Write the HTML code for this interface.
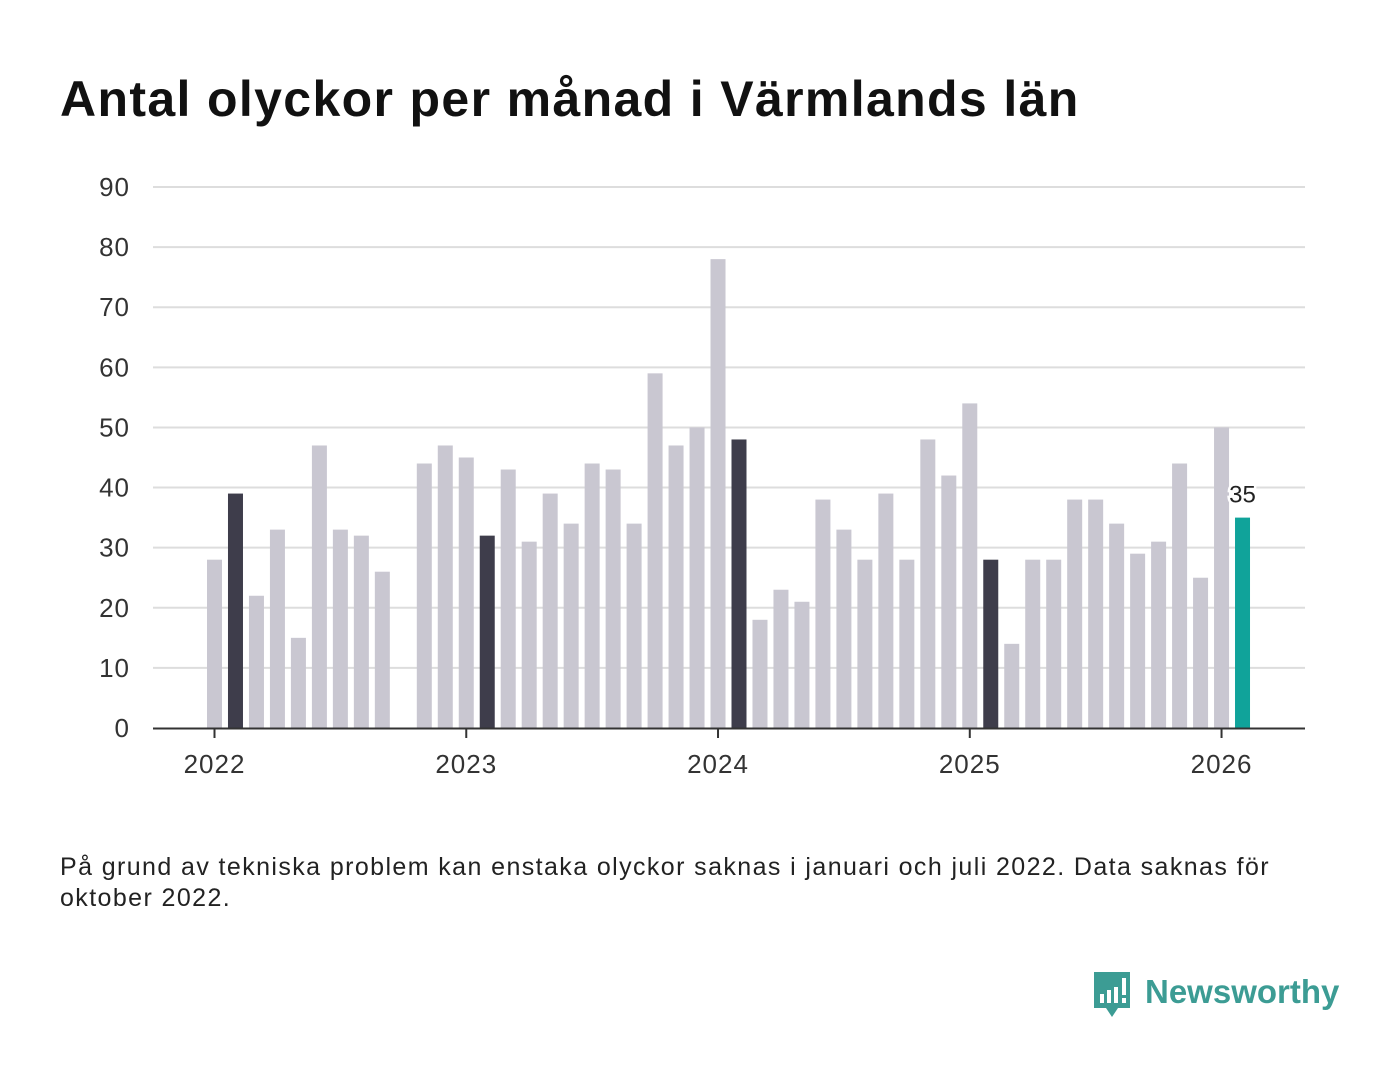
<!DOCTYPE html>
<html><head><meta charset="utf-8"><style>
body{margin:0;background:#fff;width:1400px;height:1080px;overflow:hidden;font-family:"Liberation Sans",sans-serif}
h1{position:absolute;left:60px;top:70px;margin:0;font-size:50px;font-weight:bold;color:#111;letter-spacing:1.35px}
.note{position:absolute;left:60px;top:852px;width:1240px;font-size:25px;line-height:31px;color:#222;letter-spacing:1.4px}
.logo{position:absolute;left:1092px;top:970px}
</style></head><body>
<h1>Antal olyckor per månad i Värmlands län</h1>
<svg id="chart" width="1400" height="820" style="position:absolute;left:0;top:0"></svg>
<div class="note">På grund av tekniska problem kan enstaka olyckor saknas i januari och juli 2022. Data saknas för oktober 2022.</div>
<svg class="logo" width="250" height="52">
<path d="M2 2h36v36H26l-6 9-6-9H2z" fill="#3c9c94"/>
<rect x="8" y="24" width="4" height="9" fill="#fff"/><rect x="15" y="20" width="4" height="13" fill="#fff"/><rect x="22" y="17" width="4" height="16" fill="#fff"/><rect x="30" y="8" width="4" height="17" fill="#fff"/><rect x="30" y="28" width="4" height="5" fill="#fff"/>
<text x="53" y="33" font-size="33" font-weight="bold" fill="#3c9c94" font-family="Liberation Sans, sans-serif">Newsworthy</text>
</svg>
<script>
const values=[28,39,22,33,15,47,33,32,26,null,44,47,45,32,43,31,39,34,44,43,34,59,47,50,78,48,18,23,21,38,33,28,39,28,48,42,54,28,14,28,28,38,38,34,29,31,44,25,50,35];
const yTicks=[0,10,20,30,40,50,60,70,80,90];
const years=["2022","2023","2024","2025","2026"];
const svg=document.getElementById('chart');const NS='http://www.w3.org/2000/svg';
const y=v=>728-v*(541/90);const x=i=>214.5+i*20.98;
function mk(t,a){const e=document.createElementNS(NS,t);for(const k in a)e.setAttribute(k,a[k]);svg.appendChild(e);return e;}
yTicks.forEach(t=>{
if(t>0){const l=mk('line',{x1:153,x2:1305,y1:y(t),y2:y(t),stroke:'#ddd','stroke-width':2});

}
const tx=mk('text',{x:130,y:y(t)+9,'text-anchor':'end','font-size':26,fill:'#333','letter-spacing':1});tx.textContent=t;


});
values.forEach((v,i)=>{if(v==null)return;
const last=i===values.length-1;const col=last?'#10a39a':(i%12===1?'#3e3d4b':'#c9c7d1');
const r=mk('rect',{x:x(i)-7.5,y:y(v),width:15,height:728-y(v),fill:col});


if(last){const t=mk('text',{x:x(i),y:y(v)-15,'text-anchor':'middle','font-size':24,fill:'#222',stroke:'#fff','stroke-width':5,'paint-order':'stroke'});t.textContent=v;

}
});
const ax=mk('line',{x1:153,x2:1305,y1:728.5,y2:728.5,stroke:'#333','stroke-width':2});


years.forEach((yr,k)=>{const xx=x(k*12);
const tk=mk('line',{x1:xx,x2:xx,y1:729,y2:738,stroke:'#333','stroke-width':2});


const t=mk('text',{x:xx,y:773,'text-anchor':'middle','font-size':26,fill:'#333','letter-spacing':1});t.textContent=yr;

});
</script>
</body></html>
